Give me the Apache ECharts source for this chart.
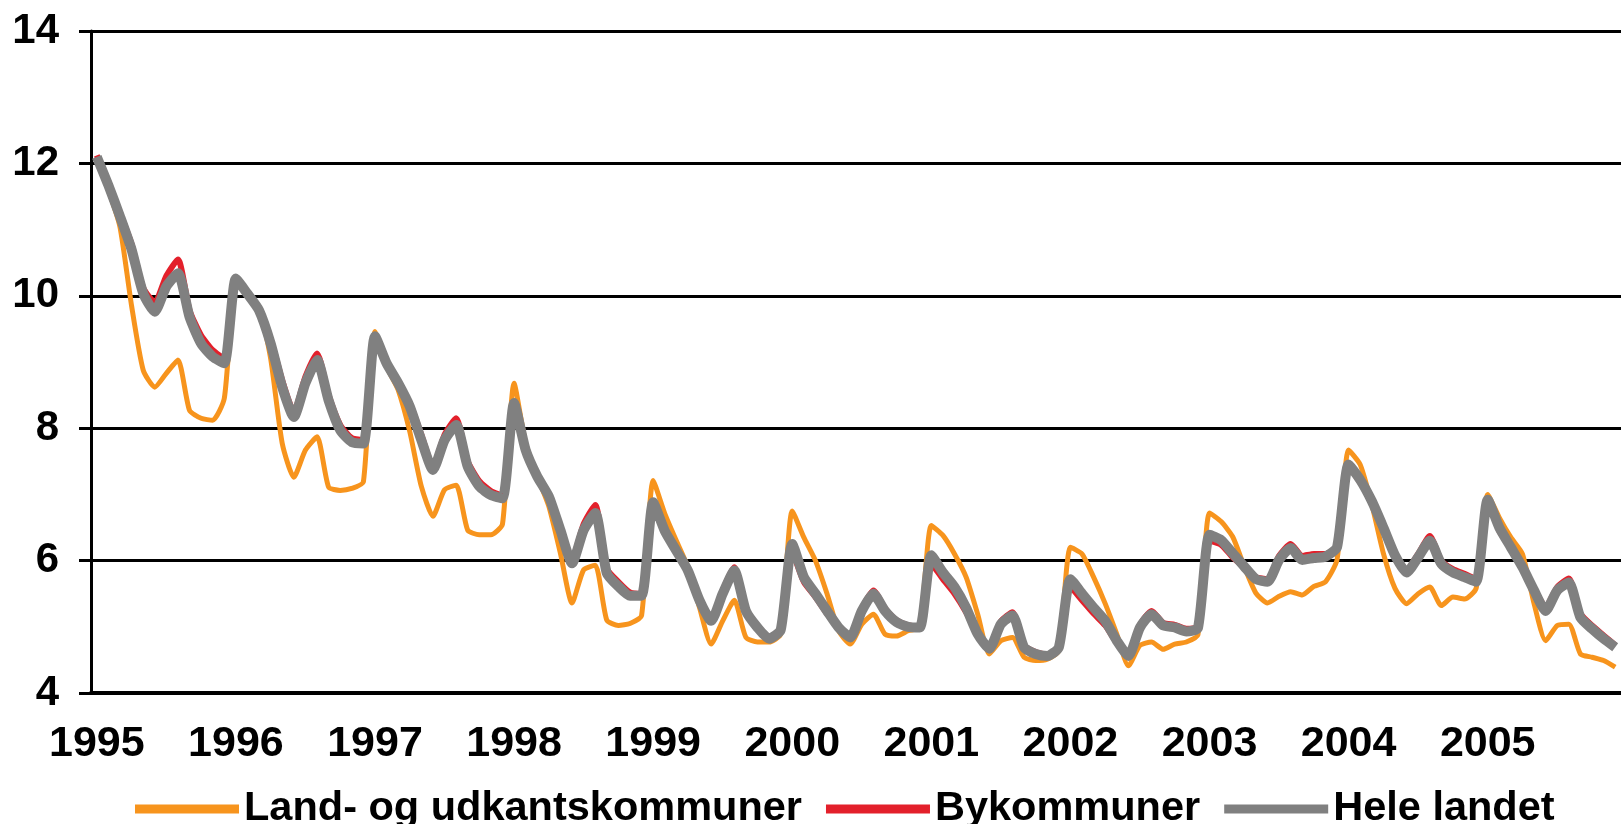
<!DOCTYPE html>
<html>
<head>
<meta charset="utf-8">
<script src="https://cdn.jsdelivr.net/npm/echarts@6/dist/echarts.min.js"></script>
<style>
html,body{margin:0;padding:0;background:#fff;}
#c{width:1621px;height:824px;}
</style>
</head>
<body>
<div id="c"></div>
<script>
const years = [1995,1996,1997,1998,1999,2000,2001,2002,2003,2004,2005];
const yTicks = [4,6,8,10,12,14];
const seriesNames = ['Land- og udkantskommuner','Bykommuner','Hele landet'];

// monthly values, Jan 1995 - Dec 2005
const land = [
  12.05,11.6,11.04,9.85,8.88,8.62,8.83,9.03,8.27,8.15,8.12,8.45,
  10.2,10.0,9.83,9.05,7.77,7.26,7.67,7.87,7.11,7.06,7.09,7.19,
  9.46,8.93,8.58,7.95,7.12,6.67,7.07,7.14,6.46,6.39,6.39,6.55,
  8.68,7.77,7.27,6.82,6.11,5.36,5.86,5.93,5.1,5.02,5.05,5.17,
  7.21,6.71,6.3,5.9,5.29,4.74,5.09,5.4,4.84,4.77,4.77,4.89,
  6.75,6.35,6.0,5.5,4.94,4.74,5.04,5.19,4.89,4.86,4.94,4.99,
  6.53,6.38,6.1,5.75,5.19,4.59,4.79,4.84,4.54,4.49,4.51,4.64,
  6.2,6.1,5.75,5.35,4.89,4.41,4.72,4.77,4.66,4.74,4.77,4.88,
  6.72,6.59,6.36,5.91,5.51,5.36,5.46,5.53,5.48,5.61,5.68,6.01,
  7.67,7.45,6.85,6.11,5.58,5.35,5.5,5.6,5.32,5.45,5.42,5.58,
  7.0,6.65,6.35,6.1,5.35,4.79,5.02,5.04,4.59,4.54,4.49,4.39
];
const by = [
  12.12,11.7,11.25,10.78,10.12,9.9,10.3,10.55,9.78,9.4,9.18,9.05,
  10.28,10.05,9.8,9.35,8.72,8.25,8.78,9.13,8.5,8.05,7.85,7.82,
  9.38,8.99,8.7,8.38,7.9,7.42,7.9,8.15,7.5,7.2,7.05,6.98,
  8.33,7.67,7.28,7.0,6.5,6.02,6.55,6.84,5.88,5.68,5.52,5.5,
  6.84,6.42,6.13,5.85,5.42,5.13,5.55,5.9,5.28,5.02,4.85,4.97,
  6.12,5.68,5.45,5.2,5.0,4.87,5.28,5.55,5.28,5.1,5.02,5.0,
  5.95,5.72,5.5,5.22,4.88,4.68,5.08,5.22,4.72,4.62,4.58,4.7,
  5.6,5.4,5.2,5.02,4.76,4.58,5.03,5.24,5.06,5.03,4.97,5.0,
  6.3,6.24,6.05,5.9,5.75,5.72,6.07,6.25,6.07,6.1,6.1,6.22,
  7.42,7.18,6.88,6.5,6.1,5.86,6.1,6.37,6.0,5.87,5.8,5.72,
  6.9,6.45,6.18,5.9,5.58,5.3,5.6,5.73,5.2,5.02,4.87,4.72
];
const hele = [
  12.1,11.67,11.2,10.7,10.04,9.76,10.14,10.34,9.68,9.28,9.08,8.98,
  10.26,10.03,9.78,9.28,8.62,8.17,8.68,9.03,8.42,7.97,7.79,7.77,
  9.39,8.98,8.68,8.33,7.82,7.37,7.82,8.05,7.42,7.12,6.99,6.94,
  8.38,7.67,7.27,6.97,6.46,5.96,6.46,6.72,5.81,5.61,5.47,5.47,
  6.88,6.45,6.15,5.85,5.4,5.09,5.5,5.85,5.24,4.99,4.82,4.95,
  6.25,5.75,5.5,5.24,4.99,4.84,5.24,5.5,5.24,5.07,5.0,4.99,
  6.08,5.82,5.6,5.29,4.89,4.67,5.04,5.17,4.69,4.59,4.56,4.69,
  5.72,5.5,5.29,5.09,4.79,4.56,4.99,5.19,5.02,4.99,4.93,4.98,
  6.39,6.31,6.11,5.91,5.72,5.68,6.01,6.19,6.01,6.04,6.06,6.2,
  7.45,7.22,6.9,6.5,6.08,5.82,6.05,6.3,5.95,5.82,5.75,5.68,
  6.92,6.5,6.2,5.9,5.55,5.24,5.55,5.67,5.14,4.97,4.82,4.69
];

const categories = [];
years.forEach(y => { for (let m = 1; m <= 12; m++) categories.push(y + '-' + (m < 10 ? '0' + m : m)); });

const FONT = 'Liberation Sans, Arial, sans-serif';
const chart = echarts.init(document.getElementById('c'), null, {renderer: 'canvas'});
chart.setOption({
  backgroundColor: '#ffffff',
  animation: false,
  grid: {left: 91, right: -7, top: 31, bottom: 131, containLabel: false},
  legend: {
    data: seriesNames,
    left: 130, top: 783,
    icon: 'rect',
    itemWidth: 104, itemHeight: 9, itemGap: 24,
    textStyle: {fontFamily: FONT, fontSize: 41.5, fontWeight: 'bold', color: '#000'}
  },
  xAxis: {
    type: 'category',
    data: categories,
    boundaryGap: true,
    axisLine: {show: true, lineStyle: {color: '#000', width: 4}},
    axisTick: {show: false},
    axisLabel: {
      interval: (idx) => idx % 12 === 0,
      formatter: (v) => v.slice(0, 4),
      fontFamily: FONT, fontSize: 43, fontWeight: 'bold', color: '#000', margin: 30
    },
    splitLine: {show: false}
  },
  yAxis: {
    type: 'value',
    min: yTicks[0], max: yTicks[yTicks.length - 1], interval: 2,
    axisLine: {show: true, lineStyle: {color: '#000', width: 3}},
    axisTick: {show: true, length: 12, lineStyle: {color: '#000', width: 3}},
    axisLabel: {fontFamily: FONT, fontSize: 42, fontWeight: 'bold', color: '#000', margin: 32},
    splitLine: {show: true, lineStyle: {color: '#000', width: 3}}
  },
  series: [
    {name: seriesNames[0], type: 'line', data: land, symbol: 'none', z: 2, smooth: 0.2,
     lineStyle: {color: '#F7941D', width: 5, join: 'round'}, itemStyle: {color: '#F7941D'}},
    {name: seriesNames[1], type: 'line', data: by, symbol: 'none', z: 3, smooth: 0.2,
     lineStyle: {color: '#E3202B', width: 6, join: 'round'}, itemStyle: {color: '#E3202B'}},
    {name: seriesNames[2], type: 'line', data: hele, symbol: 'none', z: 4, smooth: 0.2,
     lineStyle: {color: '#808080', width: 10, join: 'round'}, itemStyle: {color: '#808080'}}
  ]
});
</script>
</body>
</html>
